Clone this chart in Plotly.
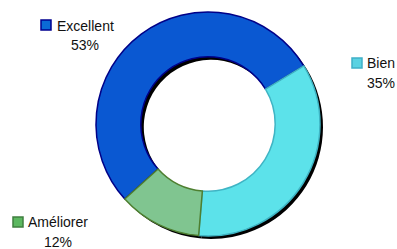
import plotly.graph_objects as go

labels = ["Excellent", "Bien", "Améliorer"]
values = [53, 35, 12]
fill_colors = ["#0a58d2", "#5ce2ea", "#80c590"]
line_colors = ["#000088", "#3fb4c4", "#4e7f30"]
key_fill = ["#0a6ad6", "#5ad2e2", "#5cb860"]
key_line = ["#000090", "#3fb0c8", "#3f7f3f"]

W, H = 397, 249

def px(x):
    return x / W

def py(y):
    return 1 - y / H

# donut geometry (pixels)
cx, cy, r = 208, 124, 112
dom_x = [px(cx - r), px(cx + r)]
dom_y = [py(cy + r), py(cy - r)]
sh = 3

fig = go.Figure()
# shadow
fig.add_trace(go.Pie(
    values=values, labels=labels, sort=False, direction="clockwise", rotation=228,
    hole=0.6, textinfo="none", hoverinfo="skip", showlegend=False,
    marker=dict(colors=["#000000"] * 3, line=dict(color="#000000", width=0)),
    domain=dict(x=[dom_x[0] + sh / W, dom_x[1] + sh / W], y=[dom_y[0] - sh / H, dom_y[1] - sh / H]),
))
fig.add_trace(go.Pie(
    values=values, labels=labels, sort=False, direction="clockwise", rotation=228,
    hole=0.6, textinfo="none", hoverinfo="skip", showlegend=False,
    marker=dict(colors=fill_colors, line=dict(color=line_colors, width=1.5)),
    domain=dict(x=dom_x, y=dom_y),
))

# label positions (pixels): text center x, label line center y, percent line center y, key box
label_pos = [
    (85, 26, 45, (41, 20)),
    (381, 63, 83, (352, 58)),
    (58, 222, 242, (13, 217)),
]

font = dict(family="Liberation Sans, Arial, sans-serif", size=14, color="#111111")
annotations = []
shapes = []
for i, (tx, ly, pyy, (kx, ky)) in enumerate(label_pos):
    annotations.append(dict(x=px(tx), y=py(ly), xref="paper", yref="paper", text=labels[i],
                            showarrow=False, xanchor="center", yanchor="middle", font=font))
    annotations.append(dict(x=px(tx), y=py(pyy), xref="paper", yref="paper", text=f"{values[i]}%",
                            showarrow=False, xanchor="center", yanchor="middle", font=font))
    shapes.append(dict(type="rect", xref="paper", yref="paper",
                       x0=px(kx), x1=px(kx + 10), y0=py(ky + 10), y1=py(ky),
                       fillcolor=key_fill[i], line=dict(color=key_line[i], width=1.5)))

fig.update_layout(
    width=W, height=H, margin=dict(l=0, r=0, t=0, b=0),
    paper_bgcolor="white", plot_bgcolor="white",
    annotations=annotations, shapes=shapes, showlegend=False,
)
fig.write_html("out.html", config={"displayModeBar": False},
               post_script="document.body.style.margin='0';document.body.style.overflow='hidden';")
